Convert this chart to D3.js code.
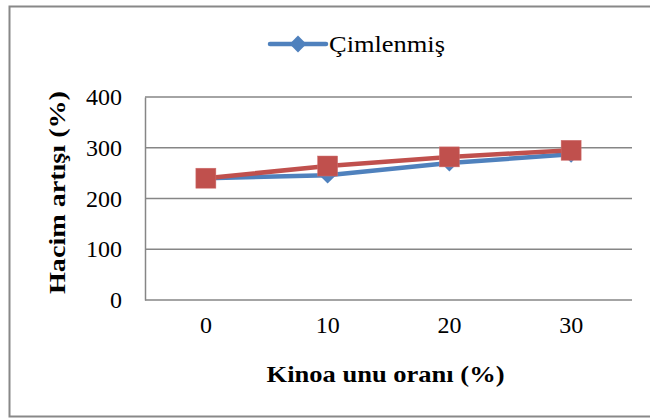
<!DOCTYPE html>
<html>
<head>
<meta charset="utf-8">
<script src="https://cdn.jsdelivr.net/npm/d3@7"></script>
</head>
<body style="margin:0">
<div id="chart"></div>
<script>
// veriler
const categories = ['0', '10', '20', '30'];
const cimlenmis = [240, 246, 270, 287];
const ikinciSeri = [240, 264, 282, 295];
const yTicks = [0, 100, 200, 300, 400];

const FONT = "'Liberation Serif'";
const width = 650, height = 419;
const margin = { top: 97, right: 18, bottom: 119, left: 145 };
const innerW = width - margin.left - margin.right;
const innerH = height - margin.top - margin.bottom;

const svg = d3.select('#chart').append('svg')
  .attr('width', width)
  .attr('height', height)
  .attr('font-family', FONT);

// dış çerçeve
svg.append('rect')
  .attr('x', 9.5).attr('y', 6.5)
  .attr('width', 650).attr('height', 410)
  .attr('fill', 'none')
  .attr('stroke', '#888').attr('stroke-width', 2);

const g = svg.append('g')
  .attr('transform', `translate(${margin.left}, ${margin.top})`);

const x = d3.scaleBand().domain(categories).range([0, innerW]);
const y = d3.scaleLinear().domain([0, 400]).range([innerH, 0]);

// yatay ızgara çizgileri
g.selectAll('.grid')
  .data(yTicks)
  .enter()
  .append('line')
  .attr('x1', 0).attr('x2', innerW)
  .attr('y1', d => y(d)).attr('y2', d => y(d))
  .attr('stroke', '#868686').attr('stroke-width', 1.5);

// Y ekseni
const yAxis = g.append('g')
  .call(d3.axisLeft(y).tickValues(yTicks).tickSize(0).tickPadding(23))
  .attr('font-family', FONT)
  .attr('font-size', 24);
yAxis.select('.domain').attr('stroke', '#868686').attr('stroke-width', 1.5);
yAxis.selectAll('text').attr('fill', '#000');

// X ekseni
const xAxis = g.append('g')
  .attr('transform', `translate(0, ${innerH})`)
  .call(d3.axisBottom(x).tickSize(0).tickPadding(16))
  .attr('font-family', FONT)
  .attr('font-size', 24);
xAxis.select('.domain').remove();
xAxis.selectAll('text').attr('fill', '#000');

// eksen başlıkları
g.append('text')
  .attr('transform', 'rotate(-90)')
  .attr('x', -innerH / 2 + 6)
  .attr('y', -80)
  .attr('text-anchor', 'middle')
  .attr('font-size', 23)
  .attr('font-weight', 'bold')
  .attr('textLength', 203)
  .attr('lengthAdjust', 'spacingAndGlyphs')
  .text('Hacim artışı (%)');

g.append('text')
  .attr('x', innerW / 2 - 3)
  .attr('y', innerH + 82)
  .attr('text-anchor', 'middle')
  .attr('font-size', 23)
  .attr('font-weight', 'bold')
  .attr('textLength', 238)
  .attr('lengthAdjust', 'spacingAndGlyphs')
  .text('Kinoa unu oranı (%)');

const cx = (d, i) => x(categories[i]) + x.bandwidth() / 2;
const line = d3.line().x((d, i) => cx(d, i)).y(d => y(d));

// mavi seri
g.append('path')
  .datum(cimlenmis)
  .attr('d', line)
  .attr('fill', 'none')
  .attr('stroke', '#4F81BD')
  .attr('stroke-width', 4.5)
  .attr('stroke-linejoin', 'round');

g.selectAll('.diamond')
  .data(cimlenmis)
  .enter()
  .append('path')
  .attr('d', d3.symbol().type(d3.symbolDiamond2).size(180))
  .attr('transform', (d, i) => `translate(${cx(d, i)}, ${y(d)})`)
  .attr('fill', '#4F81BD');

// kırmızı seri
g.append('path')
  .datum(ikinciSeri)
  .attr('d', line)
  .attr('fill', 'none')
  .attr('stroke', '#C0504D')
  .attr('stroke-width', 4.5)
  .attr('stroke-linejoin', 'round');

g.selectAll('.square')
  .data(ikinciSeri)
  .enter()
  .append('rect')
  .attr('x', (d, i) => cx(d, i) - 10)
  .attr('y', d => y(d) - 10)
  .attr('width', 20).attr('height', 20)
  .attr('fill', '#C0504D')
  .attr('stroke', '#D07070').attr('stroke-width', 0.5);

// lejant
const legend = svg.append('g').attr('transform', 'translate(270, 44)');
legend.append('line')
  .attr('x1', 0).attr('x2', 56)
  .attr('y1', 0).attr('y2', 0)
  .attr('stroke', '#4F81BD').attr('stroke-width', 4.5)
  .attr('stroke-linecap', 'round');
legend.append('path')
  .attr('d', d3.symbol().type(d3.symbolDiamond2).size(180))
  .attr('transform', 'translate(28, 0)')
  .attr('fill', '#4F81BD');
legend.append('text')
  .attr('x', 59).attr('y', 8)
  .attr('font-size', 24)
  .attr('textLength', 116)
  .attr('lengthAdjust', 'spacingAndGlyphs')
  .text('Çimlenmiş');
</script>
</body>
</html>
